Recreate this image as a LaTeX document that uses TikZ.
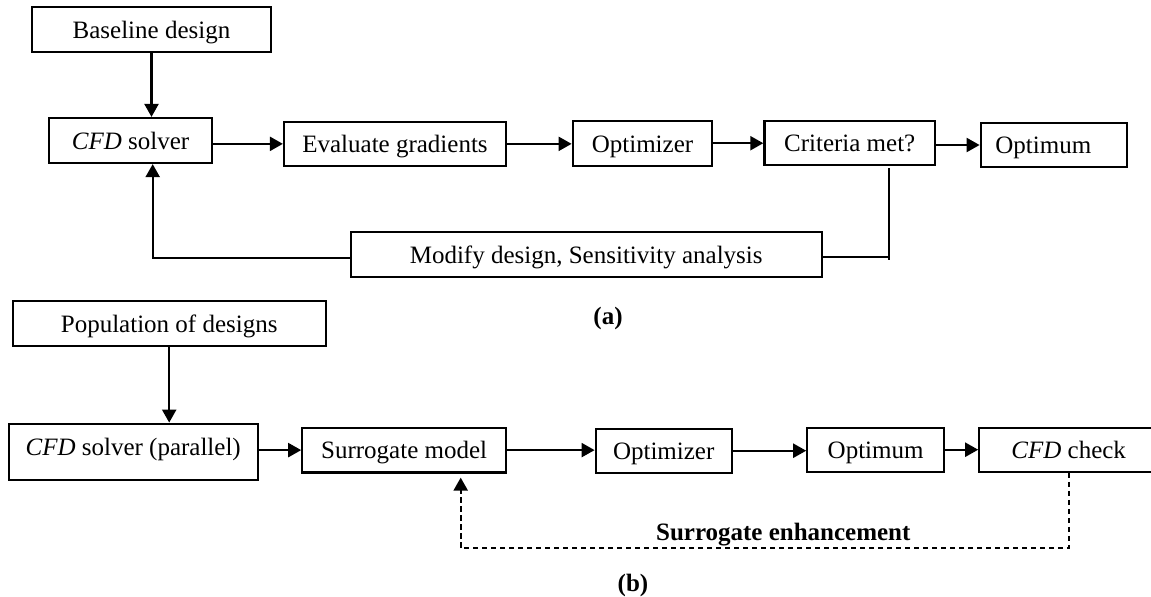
\documentclass[tikz,border=0pt]{standalone}
\usepackage{fontspec}
\setmainfont{Liberation Serif}
\usetikzlibrary{arrows.meta}
\tikzset{
  box/.style={draw, line width=1.1pt, rectangle, inner sep=0pt, text height=9.4pt, text depth=0.6pt, font=\fontsize{12.5}{15}\selectfont},
  lbl/.style={inner sep=0pt, text height=9.4pt, text depth=0.6pt, font=\fontsize{12.5}{15}\selectfont},
  blbl/.style={inner sep=0pt, font=\fontsize{12.5}{15}\selectfont\bfseries},
  arr/.style={line width=1.1pt, -{Triangle[length=6.5pt,width=7pt]}},
  plain/.style={line width=1.1pt},
  dasharr/.style={line width=1.1pt, dash pattern=on 2.7pt off 1.8pt, -{Triangle[length=6.5pt,width=7pt]}},
  dashline/.style={line width=1.1pt, dash pattern=on 2.7pt off 1.8pt}
}
\begin{document}
\begin{tikzpicture}[x=0.5pt,y=-0.5pt]
\useasboundingbox (0,0) rectangle (1151,596);
\clip (0,0) rectangle (1151,596);
% (a)
\node[box, minimum width=119.5pt, minimum height=22.5pt] (base) at (151.5,29.5) {Baseline design};
\node[box, minimum width=81.5pt, minimum height=22.5pt] (cfd) at (130.5,140.5) {\textit{CFD} solver};
\node[box, minimum width=111pt, minimum height=22.2pt] (eval) at (395,143.85) {Evaluate gradients};
\node[box, minimum width=69.8pt, minimum height=22.5pt] (opt) at (642.5,143.2) {Optimizer};
\node[box, minimum width=85.3pt, minimum height=22.2pt] (crit) at (849.7,142.85) {Criteria met?};
\node[box, minimum width=73.3pt, minimum height=22.3pt] (optm) at (1054,145) {};
\node[lbl, anchor=west] (optmtext) at (995,145) {Optimum};
\node[box, minimum width=235.5pt, minimum height=22.2pt] (mod) at (586.2,254.5) {Modify design, Sensitivity analysis};
\node[blbl] (la) at (608,318) {(a)};

\draw[arr] (base.south) -- (base.south |- cfd.north);
\draw[arr] (cfd.east |- eval.west) -- (eval.west);
\draw[arr] (eval.east) -- (opt.west |- eval.east);
\draw[arr] (opt.east) -- (crit.west |- opt.east);
\draw[arr] (crit.east |- optm.west) -- (optm.west);
\coordinate (fbturn) at (152.7,258);
\draw[arr] (mod.west |- fbturn) -- (fbturn) -- (fbturn |- cfd.south);
\coordinate (critdrop) at (889.3,168.3);
\coordinate (critbot) at (889.3,259.5);
\coordinate (critjoin) at (889.3,256.7);
\draw[plain] (critdrop) -- (critbot);
\draw[plain] (mod.east |- critjoin) -- (critjoin);

% (b)
\node[box, minimum width=156.5pt, minimum height=22.35pt] (pop) at (169.2,323.35) {Population of designs};
\node[box, minimum width=124.5pt, minimum height=28.15pt, text depth=5.5pt] (cfdp) at (133.2,451.85) {\textit{CFD} solver (parallel)};
\node[box, minimum width=101.85pt, minimum height=22.4pt] (sm) at (404.15,450.1) {Surrogate model};
\node[box, minimum width=68pt, minimum height=22pt] (opt2) at (663.7,450.7) {Optimizer};
\node[box, minimum width=68.35pt, minimum height=22pt] (optm2) at (875.65,449.7) {Optimum};
\node[box, minimum width=89.4pt, minimum height=22pt] (check) at (1068.7,449.7) {\textit{CFD} check};
\node[blbl, anchor=base] (enh) at (783.3,540) {Surrogate enhancement};
\node[blbl] (lb) at (633,585) {(b)};

\draw[arr] (pop.south) -- (pop.south |- cfdp.north);
\draw[arr] (cfdp.east |- sm.west) -- (sm.west);
\draw[arr] (sm.east) -- (opt2.west |- sm.east);
\draw[arr] (opt2.east) -- (optm2.west |- opt2.east);
\draw[arr] (optm2.east) -- (check.west |- optm2.east);
\coordinate (dl) at (460.7,547.7);
\coordinate (dr) at (1069,547.7);
\draw[dashline] (check.south -| dr) -- (dr) -- (dl);
\draw[dasharr, shorten >=2pt] (dl) -- (dl |- sm.south);
\end{tikzpicture}
\end{document}
